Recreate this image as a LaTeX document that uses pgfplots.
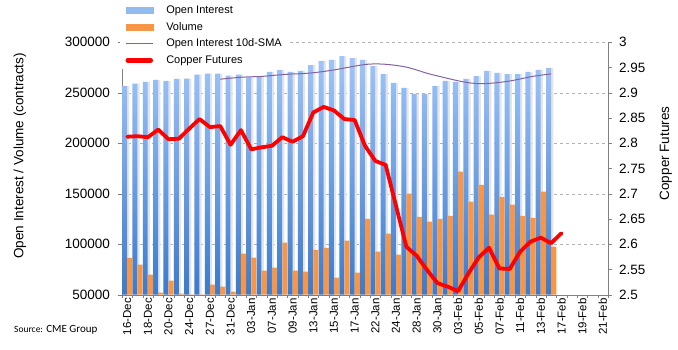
\documentclass[border=0pt]{standalone}
\usepackage{pgfplots}
\pgfplotsset{compat=1.18}
\usepackage{pgfplotstable}
\usepackage{fontspec}
\setmainfont{Liberation Sans}
\newfontfamily\carlito{Carlito}
\definecolor{oitop}{RGB}{160,198,250}
\definecolor{oibot}{RGB}{58,122,205}
\definecolor{oileg}{RGB}{146,187,240}
\definecolor{vol}{RGB}{247,150,70}
\definecolor{sma}{RGB}{128,100,162}
\definecolor{cu}{RGB}{255,0,0}
\definecolor{shadow}{RGB}{228,228,228}

\pgfplotstableread{
x y
0 256700
1 259000
2 260700
3 262700
4 261700
5 263700
6 264000
7 268000
8 269000
9 269000
10 267000
11 268000
12 265300
13 266300
14 270600
15 272600
16 270600
17 271600
18 277500
19 281500
20 282500
21 286400
22 284400
23 282500
24 276500
25 268600
26 259700
27 254800
28 248800
29 248800
30 256700
31 261700
32 260700
33 263700
34 266600
35 271600
36 269600
37 268600
38 268600
39 270600
40 272600
41 274600
}\oitable

\pgfplotstableread{
x y
0 86600
1 79700
2 69800
3 52000
4 63900
5 51000
6 40000
7 40000
8 60000
9 57900
10 53000
11 90600
12 86800
13 73800
14 76800
15 101500
16 73800
17 72800
18 94500
19 96500
20 66800
21 103500
22 71800
23 125200
24 92600
25 110400
26 89600
27 150000
28 127200
29 122300
30 125200
31 128200
32 171800
33 142100
34 158900
35 129200
36 147000
37 139100
38 128200
39 126200
40 152000
41 97500
}\voltable

\pgfplotstableread{
x y
9 263450
10 264480
11 265380
12 265840
13 266200
14 267090
15 267980
16 268640
17 269000
18 269850
19 271100
20 272650
21 274490
22 276400
23 278020
24 278610
25 278210
26 277120
27 275440
28 272570
29 269300
30 266720
31 264250
32 261880
33 260000
34 259010
35 259310
36 260300
37 261680
38 263660
39 265840
40 267430
41 268720
}\smatable

\pgfplotstableread{
x y
0 2.813
1 2.814
2 2.812
3 2.827
4 2.808
5 2.809
6 2.829
7 2.848
8 2.832
9 2.834
10 2.797
11 2.826
12 2.788
13 2.792
14 2.795
15 2.812
16 2.803
17 2.814
18 2.861
19 2.872
20 2.865
21 2.848
22 2.846
23 2.795
24 2.765
25 2.757
26 2.676
27 2.595
28 2.577
29 2.549
30 2.523
31 2.516
32 2.507
33 2.542
34 2.574
35 2.593
36 2.552
37 2.551
38 2.585
39 2.605
40 2.613
41 2.602
42 2.622
}\cutable

\begin{document}
\begin{tikzpicture}
\useasboundingbox (-122pt,-54.3pt) rectangle (556pt,294.7pt);
\begin{axis}[
  scale only axis, width=486pt, height=252.4pt,
  xmin=-0.5, xmax=46.5, ymin=50000, ymax=300000,
  axis y line*=left, axis x line*=bottom,
  axis line style={gray,-},
  xtick={-0.5,0.5,...,46.5}, xticklabels={},
  extra x ticks={0,2,...,46},
  extra x tick labels={16-Dec,18-Dec,20-Dec,24-Dec,27-Dec,31-Dec,03-Jan,07-Jan,09-Jan,13-Jan,15-Jan,17-Jan,22-Jan,24-Jan,28-Jan,30-Jan,03-Feb,05-Feb,07-Feb,11-Feb,13-Feb,17-Feb,19-Feb,21-Feb},
  extra x tick style={major tick length=0pt, grid=none},
  xticklabel style={rotate=90, anchor=east, font=\fontsize{11.5}{12}\selectfont},
  tick align=outside, major tick length=3.5pt,
  tick style={gray},
  ytick={50000,100000,150000,200000,250000,300000},
  scaled y ticks=false,
  yticklabel style={/pgf/number format/fixed, /pgf/number format/1000 sep={}, font=\fontsize{13.5}{14}\selectfont, xshift=-5pt},
  ymajorgrids, major grid style={dashed, gray!60},
  /pgf/number format/assume math mode=true,
  ylabel={Open Interest / Volume (contracts)},
  ylabel style={at={(axis description cs:-0.21,0.55)}, anchor=center, font=\fontsize{13.5}{14}\selectfont},
]
\addplot[ybar, bar width=0.48, bar shift=-0.03, draw=none, fill=shadow] table[x=x,y=y]{\oitable};
\addplot[ybar, bar width=0.48, bar shift=-0.25, draw=none, top color=oitop, bottom color=oibot] table[x=x,y=y]{\oitable};
\addplot[ybar, bar width=0.5, bar shift=0.25, draw=none, fill=vol] table[x=x,y=y]{\voltable};
\addplot[sma, line width=1pt, smooth, mark=none] table[x=x,y=y]{\smatable};
\end{axis}
\begin{axis}[
  scale only axis, width=486pt, height=252.4pt,
  xmin=-0.5, xmax=46.5, ymin=2.5, ymax=3,
  axis y line*=right, axis x line=none,
  axis line style={gray,-},
  ytick={2.5,2.55,2.6,2.65,2.7,2.75,2.8,2.85,2.9,2.95,3},
  yticklabel style={font=\fontsize{13.5}{14}\selectfont, xshift=4pt},
  tick align=outside, major tick length=3.5pt, tick style={gray},
  /pgf/number format/assume math mode=true,
  ylabel={Copper Futures},
  ylabel style={at={(axis description cs:1.119,0.56)}, anchor=center, font=\fontsize{13.5}{14}\selectfont},
  legend cell align=left,
  legend style={draw=none, fill=white, at={(axis description cs:-0.004,1.1605)}, anchor=north west,
    font=\fontsize{11}{12}\selectfont, inner xsep=5pt, inner ysep=2pt, row sep=3.6pt, column sep=12pt,
    nodes={inner sep=1pt, text height=8.5pt, text depth=2.5pt}},
]
\addlegendimage{legend image code/.code={\fill[oileg] (0pt,-3pt) rectangle (27pt,3pt);}}
\addlegendentry{Open Interest}
\addlegendimage{legend image code/.code={\fill[vol] (0pt,-3pt) rectangle (27pt,3pt);}}
\addlegendentry{Volume}
\addlegendimage{legend image code/.code={\draw[sma, line width=1pt] (0pt,0pt) -- (27pt,0pt);}}
\addlegendentry{Open Interest 10d-SMA}
\addplot[cu, line width=3.8pt, line join=round, line cap=round, mark=none,
  legend image code/.code={\draw[cu, line width=4.5pt, line cap=round] (2pt,0pt) -- (25pt,0pt);}] table[x=x,y=y]{\cutable};
\addlegendentry{Copper Futures}
\end{axis}
\node[anchor=west, inner sep=0pt, font=\carlito\fontsize{11}{12}\selectfont] at (-108pt,-35.3pt) {{\fontsize{9.5}{10}\selectfont Source:} CME Group};
\end{tikzpicture}
\end{document}
